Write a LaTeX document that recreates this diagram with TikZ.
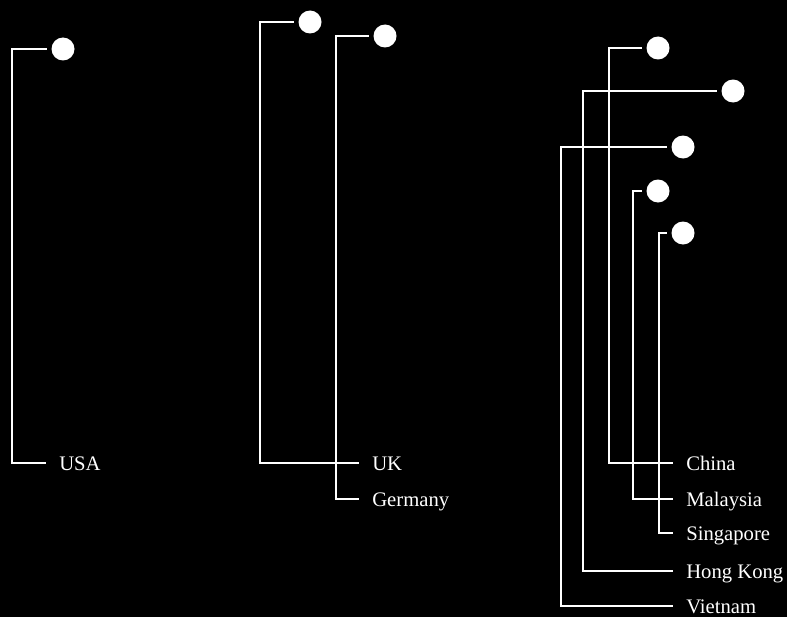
\documentclass[tikz,border=0pt]{standalone}
\usepackage{fontspec}
\setmainfont{Liberation Serif}
\begin{document}
\begin{tikzpicture}[x=0.75pt,y=-0.75pt,
  dot/.style={circle,fill=white,draw=none,minimum size=17.25pt,inner sep=0pt},
  lbl/.style={anchor=west,inner sep=0pt,text=white,font=\fontsize{15.5}{18}\selectfont,text height=10.5pt,text depth=0pt},
  conn/.style={draw=white,line width=0.85pt,shorten <=3.4pt,shorten >=10pt}]
\fill[black] (0,0) rectangle (787,617);
% circles
\node[dot] (cUSA) at (63,49) {};
\node[dot] (cUK) at (310,22) {};
\node[dot] (cGer) at (385,36) {};
\node[dot] (cChina) at (658,48) {};
\node[dot] (cHK) at (733,91) {};
\node[dot] (cViet) at (683,147) {};
\node[dot] (cMal) at (658,191) {};
\node[dot] (cSin) at (683,233) {};
% labels
\node[lbl] (lUSA) at (59,463) {USA};
\node[lbl] (lUK) at (372,463) {UK};
\node[lbl] (lGer) at (372,499) {Germany};
\node[lbl] (lChina) at (686,463) {China};
\node[lbl] (lMal) at (686,499) {Malaysia};
\node[lbl] (lSin) at (686,533) {Singapore};
\node[lbl] (lHK) at (686,571) {Hong Kong};
\node[lbl] (lViet) at (686,606) {Vietnam};
% corner coordinates
\coordinate (vUSA) at (12,463);
\coordinate (vUK) at (260,463);
\coordinate (vGer) at (336,499);
\coordinate (vChina) at (609,463);
\coordinate (vMal) at (633,499);
\coordinate (vSin) at (659,533);
\coordinate (vHK) at (583,571);
\coordinate (vViet) at (561,606);
% connectors
\draw[conn] (cUSA.west) -| (vUSA) |- (lUSA.west);
\draw[conn] (cUK.west) -| (vUK) |- (lUK.west);
\draw[conn] (cGer.west) -| (vGer) |- (lGer.west);
\draw[conn] (cChina.west) -| (vChina) |- (lChina.west);
\draw[conn] (cMal.west) -| (vMal) |- (lMal.west);
\draw[conn] (cSin.west) -| (vSin) |- (lSin.west);
\draw[conn] (cHK.west) -| (vHK) |- (lHK.west);
\draw[conn] (cViet.west) -| (vViet) |- (lViet.west);
\end{tikzpicture}
\end{document}
